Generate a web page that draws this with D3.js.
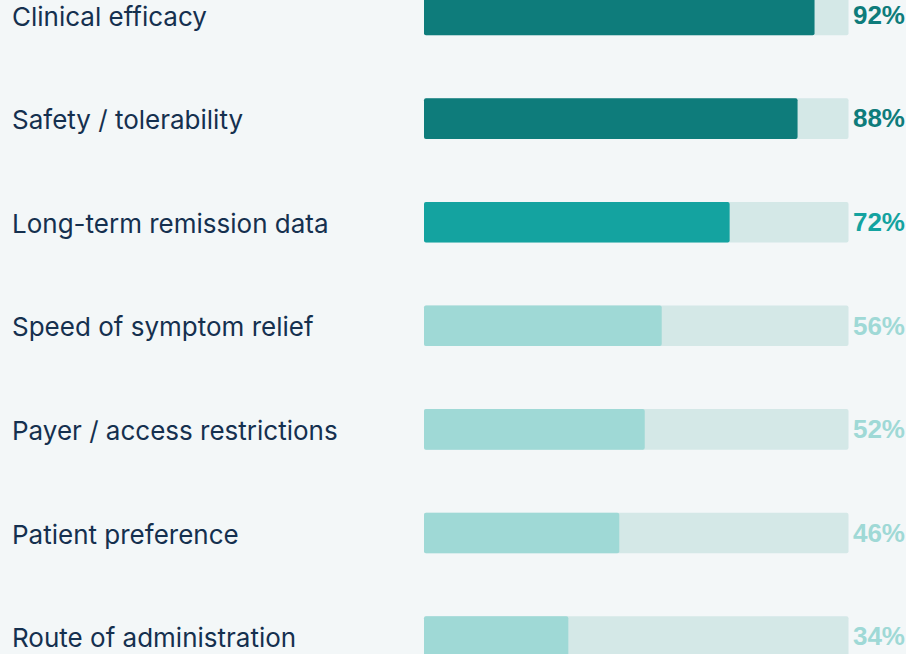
<!DOCTYPE html>
<html><head><meta charset="utf-8">
<script src="https://cdn.jsdelivr.net/npm/d3@7"></script>
<style>
html,body{margin:0;padding:0;background:#f3f7f8;}
svg{display:block;}
</style></head>
<body>
<svg id="chart" width="906" height="654"></svg>
<script>
const categories = ["Clinical efficacy","Safety / tolerability","Long-term remission data","Speed of symptom relief","Payer / access restrictions","Patient preference","Route of administration"];
const values = [92,88,72,56,52,46,34];
const tiers = ["high","high","mid","low","low","low","low"];

const colors = {high:"#0e7c7b", mid:"#14a3a0", low:"#9fd9d6"};
const W = 906, H = 654;
const svg = d3.select("#chart");
svg.append("rect").attr("width",W).attr("height",H).attr("fill","#f3f7f8");

const y = d3.scaleBand().domain(categories).range([-36.8, 688.4]).paddingInner(0.608).paddingOuter(0.304);
const x = d3.scaleLinear().domain([0,100]).range([424, 848.5]);

const rows = svg.selectAll("g.row").data(categories).join("g").attr("class","row");

rows.append("rect")
  .attr("x", x(0)).attr("y", d => y(d)).attr("width", x(100)-x(0)).attr("height", y.bandwidth())
  .attr("rx", 2).attr("fill", "#d4e8e7");

rows.append("rect")
  .attr("x", x(0)).attr("y", d => y(d)).attr("width", (d,i) => x(values[i])-x(0)).attr("height", y.bandwidth())
  .attr("rx", 2).attr("fill", (d,i) => colors[tiers[i]]);

rows.append("text")
  .attr("x", 12).attr("y", d => y(d)+y.bandwidth()/2+3.5)
  .attr("dominant-baseline","middle")
  .attr("font-family","Inter, 'Open Sans', sans-serif").attr("font-size", 26)
  .attr("fill","#15304f")
  .text(d => d);

rows.append("text")
  .attr("x", 905).attr("y", d => y(d)+y.bandwidth()/2+2)
  .attr("dominant-baseline","middle").attr("text-anchor","end")
  .attr("font-family","'Liberation Sans', Arial, sans-serif").attr("font-size", 26).attr("font-weight",700)
  .attr("fill",(d,i) => colors[tiers[i]])
  .text((d,i) => values[i] + "%");
</script>
</body></html>
